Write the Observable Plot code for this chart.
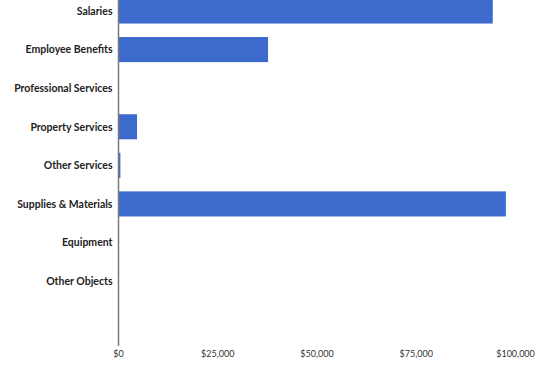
<!DOCTYPE html>
<html><head><meta charset="utf-8">
<script src="https://cdn.jsdelivr.net/npm/d3@7"></script>
<script src="https://cdn.jsdelivr.net/npm/@observablehq/plot@0.6"></script>
<style>body{margin:0;background:#fff;} svg{display:block;}</style>
</head><body><div id="chart"></div>
<script>
const categories = ["Salaries","Employee Benefits","Professional Services","Property Services","Other Services","Supplies & Materials","Equipment","Other Objects"];
const amounts = [94400, 37800, 0, 4800, 600, 97700, 0, 0];
const xTicks = [0, 25000, 50000, 75000, 100000];
const data = categories.map((c,i)=>({category:c, amount:amounts[i]}));
const fmt = d => "$" + d3.format(",")(d);
const chart = Plot.plot({
  width: 549, height: 368,
  marginTop: 0, marginBottom: 22, marginLeft: 118, marginRight: 34,
  style: {fontFamily: "Lato, 'Open Sans', sans-serif", background: "#fff"},
  x: {domain: [0, 100000], ticks: xTicks, tickFormat: fmt, label: null},
  y: {domain: categories, range: [-8.3, 300.4], paddingInner: 0.35, paddingOuter: 0.175, round: false, label: null},
  marks: [
    Plot.barX(data, {x: "amount", y: "category", fill: "#3c6bcd"}),
    Plot.ruleX([0], {stroke: "#7a7a7a", strokeWidth: 1.5}),
    Plot.axisY({tickSize: 0, tickPadding: 6, fontSize: 10.5, fontWeight: 700, fill: "#222"}),
    Plot.axisX({tickSize: 0, tickPadding: 4, fontSize: 9, fill: "#333", ticks: xTicks, tickFormat: fmt})
  ]
});
document.getElementById("chart").appendChild(chart);
</script>
</body></html>
